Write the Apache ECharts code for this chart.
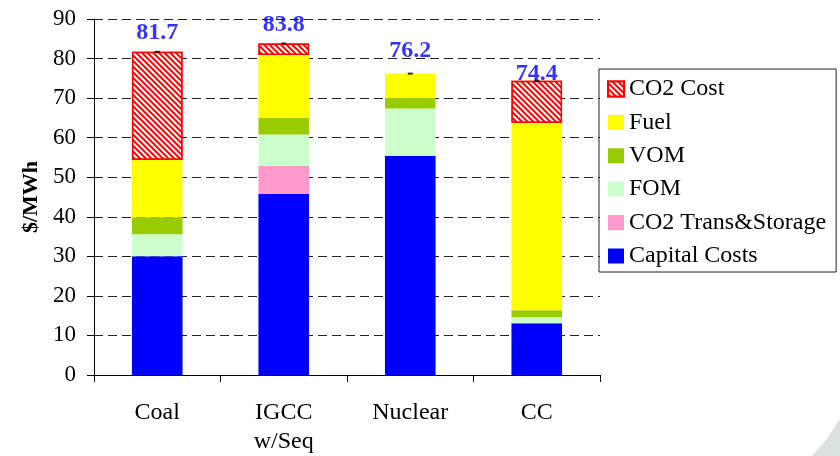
<!DOCTYPE html>
<html>
<head>
<meta charset="utf-8">
<script src="https://cdn.jsdelivr.net/npm/echarts@6/dist/echarts.min.js"></script>
<style>html,body{margin:0;padding:0;background:#fff}#c{width:840px;height:456px}</style>
</head>
<body>
<div id="c"></div>
<script>
const categories = ['Coal', 'IGCC\nw/Seq', 'Nuclear', 'CC'];
const capitalCosts = [30.0, 45.8, 55.4, 13.1];
const co2TransStorage = [0, 7.1, 0, 0];
const fom = [5.6, 7.9, 12.0, 1.5];
const vom = [4.3, 4.2, 2.6, 1.8];
const fuel = [14.5, 15.9, 6.2, 47.4];
const co2Cost = [27.3, 2.9, 0, 10.6];
const totals = [81.7, 83.8, 76.2, 74.4];
const yTicks = [0, 10, 20, 30, 40, 50, 60, 70, 80, 90];

const labelDistance = [6, 6, 10, -6];
const FONT = '"Liberation Serif", "Times New Roman", serif';

const chart = echarts.init(document.getElementById('c'), null, {renderer: 'canvas'});

function nz(arr) { return arr.map(function (v) { return v === 0 ? '-' : v; }); }

function barSeries(name, data, color, extra) {
  return Object.assign({
    name: name,
    type: 'bar',
    stack: 'total',
    data: nz(data),
    barWidth: '40%',
    itemStyle: {color: color},
    emphasis: {disabled: true}
  }, extra || {});
}

const option = {
  animation: false,
  backgroundColor: '#fff',
  textStyle: {fontFamily: FONT},
  grid: {left: 94, right: 240, top: 19, bottom: 79, containLabel: false},
  graphic: [{
    type: 'polygon',
    shape: {points: [[812, 456], [826, 440], [840, 419], [840, 456]]},
    style: {fill: '#d9e2e0'},
    silent: true
  }],
  legend: {
    orient: 'vertical',
    left: 599,
    top: 69,
    padding: [8, 10, 4, 8],
    borderColor: '#222',
    borderWidth: 1,
    itemWidth: 16,
    itemHeight: 15,
    itemGap: 9.4,
    icon: 'rect',
    textStyle: {fontFamily: FONT, fontSize: 24, color: '#000', lineHeight: 24},
    data: ['CO2 Cost', 'Fuel', 'VOM', 'FOM', 'CO2 Trans&Storage', 'Capital Costs']
  },
  xAxis: {
    type: 'category',
    data: categories,
    axisLine: {lineStyle: {color: '#000', width: 1}},
    axisTick: {show: true, length: 7, lineStyle: {color: '#000'}},
    axisLabel: {color: '#000', fontFamily: FONT, fontSize: 24, lineHeight: 29, margin: 23}
  },
  yAxis: {
    type: 'value',
    min: 0,
    max: 90,
    interval: 10,
    name: '$/MWh',
    nameLocation: 'middle',
    nameGap: 50,
    nameTextStyle: {fontFamily: FONT, fontSize: 22, fontWeight: 'bold', color: '#000'},
    axisLine: {show: true, lineStyle: {color: '#000', width: 1}},
    axisTick: {show: true, length: 7, lineStyle: {color: '#000'}},
    axisLabel: {color: '#000', fontFamily: FONT, fontSize: 23, margin: 18,
      formatter: function (v) { return yTicks.indexOf(v) >= 0 ? String(v) : ''; }},
    splitLine: {show: true, lineStyle: {color: '#222', type: [9, 5], width: 1}}
  },
  series: [
    barSeries('Capital Costs', capitalCosts, '#0000FF'),
    barSeries('CO2 Trans&Storage', co2TransStorage, '#FF99CC'),
    barSeries('FOM', fom, '#CCFFCC'),
    barSeries('VOM', vom, '#99CC00'),
    barSeries('Fuel', fuel, '#FFFF00'),
    barSeries('CO2 Cost', co2Cost, '#FFFFFF', {
      itemStyle: {
        color: '#FFFFFF',
        borderColor: '#FF0000',
        borderWidth: 1.5,
        decal: {
          symbol: 'rect',
          symbolSize: 1,
          color: '#FF0000',
          backgroundColor: '#FFFFFF',
          dashArrayX: [1, 0],
          dashArrayY: [1.6, 1.6],
          rotation: Math.PI / 4
        }
      }
    }),
    {
      name: 'totals',
      type: 'scatter',
      data: totals.map(function (v, i) {
        return {value: v, label: {distance: labelDistance[i]}};
      }),
      symbol: 'rect',
      symbolSize: [5, 2],
      itemStyle: {color: '#000'},
      z: 5,
      silent: true,
      label: {
        show: true,
        position: 'top',
        color: '#0000FF',
        fontFamily: FONT,
        fontSize: 24,
        fontWeight: 'bold',
        formatter: function (p) { return p.value.toFixed(1); }
      }
    }
  ]
};
chart.setOption(option);
</script>
</body>
</html>
